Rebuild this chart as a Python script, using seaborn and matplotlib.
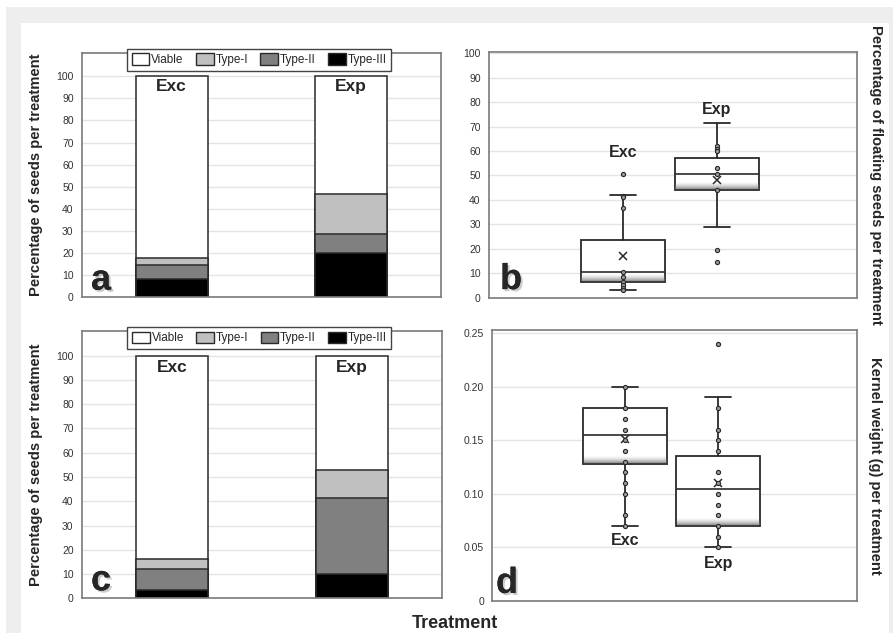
import numpy as np
import pandas as pd
import matplotlib
matplotlib.use('Agg')
import matplotlib.pyplot as plt
import matplotlib.patheffects as pe
from matplotlib.patches import Patch, Rectangle
import seaborn as sns

sns.set_style('white')
plt.rcParams['font.family'] = ['Liberation Sans', 'DejaVu Sans']

treatments = ['Exc', 'Exp']
classes = ['Viable', 'Type-I', 'Type-II', 'Type-III']
class_colors = ['white', '#c0c0c0', '#808080', 'black']

# panel a: seed classes (%)
a_type3 = [8.0, 20.0]
a_type2 = [6.5, 8.5]
a_type1 = [3.0, 18.0]
a_viable = [82.5, 53.5]

# panel c: seed classes (%)
c_type3 = [3.6, 10.0]
c_type2 = [8.4, 31.5]
c_type1 = [4.1, 11.5]
c_viable = [83.9, 47.0]

# panel b: floating seeds (%), box stats
b_q1 = [6.5, 44.0]
b_med = [10.5, 50.5]
b_q3 = [23.5, 57.0]
b_lo = [3.0, 29.0]
b_hi = [42.0, 71.5]
b_mean = [17.0, 48.0]
b_pts_exc = [50.5, 41.5, 41.0, 36.5, 10.5, 8.5, 6.5, 5.0, 4.0, 3.0]
b_pts_exp = [62.0, 61.0, 60.0, 53.0, 50.5, 44.0, 19.5, 14.5]

# panel d: kernel weight (g)
d_q1 = [0.128, 0.070]
d_med = [0.155, 0.105]
d_q3 = [0.180, 0.135]
d_lo = [0.070, 0.050]
d_hi = [0.200, 0.190]
d_mean = [0.151, 0.110]
d_pts_exc = [0.20, 0.18, 0.17, 0.16, 0.15, 0.14, 0.13, 0.12, 0.11, 0.10, 0.08, 0.07]
d_pts_exp = [0.24, 0.18, 0.16, 0.15, 0.14, 0.12, 0.11, 0.10, 0.09, 0.08, 0.07, 0.06, 0.05]

EDGE = '#2a2a2a'
GRID = '#e4e4e4'
SPINE = '#7a7a7a'

fig = plt.figure(figsize=(8.93, 6.33), dpi=100)
fig.patch.set_facecolor('white')
fig.patches.append(Rectangle((6 / 893, 0), 1, 1 - 7 / 633, transform=fig.transFigure,
                             facecolor='#eeeeee', edgecolor='none', zorder=-10))
fig.patches.append(Rectangle((21 / 893, 0), (889 - 21) / 893, 1 - 23 / 633,
                             transform=fig.transFigure, facecolor='white',
                             edgecolor='none', zorder=-9))

ax_a = fig.add_axes([0.0918, 0.5308, 0.402, 0.3855])
ax_c = fig.add_axes([0.0918, 0.0548, 0.403, 0.4228])
ax_b = fig.add_axes([0.5476, 0.5297, 0.4118, 0.3882])
ax_d = fig.add_axes([0.5513, 0.0506, 0.408, 0.4281])


def style_axes(ax):
    ax.set_facecolor('none')
    for s in ax.spines.values():
        s.set_color(SPINE)
        s.set_linewidth(1.2)
        s.set_visible(True)
    ax.yaxis.grid(True, color=GRID, lw=1)
    ax.set_axisbelow(True)
    ax.tick_params(axis='y', length=0, labelsize=7.5, labelcolor='#333333', pad=6)
    ax.set_xticks([])
    ax.set_xlabel('')
    ax.set_ylabel('')


def panel_letter(ax, letter, x, y):
    ax.text(x, y, letter, transform=ax.transAxes, fontsize=26, fontweight='bold',
            ha='left', va='baseline', zorder=6,
            path_effects=[pe.withSimplePatchShadow(offset=(1.5, -1.5),
                                                   shadow_rgbFace='#999999', alpha=0.5),
                          pe.Normal()])


def stacked(ax, viable, t1, t2, t3, top, letter, label_y):
    df = pd.DataFrame({'treatment': treatments, 'Viable': viable, 'Type-I': t1,
                       'Type-II': t2, 'Type-III': t3})
    cols = classes
    for i, cls in enumerate(cols):
        cum = df[cols[i:]].sum(axis=1)
        sns.barplot(x=df['treatment'], y=cum, color=class_colors[i], width=0.4,
                    edgecolor=EDGE, linewidth=1.1, saturation=1, ax=ax, zorder=2)
    ax.set_xlim(-0.5, 1.5)
    ax.set_ylim(0, top)
    ax.set_yticks(range(0, 101, 10))
    style_axes(ax)
    for i, t in enumerate(treatments):
        ax.text(i, label_y, t, ha='center', va='center', fontsize=12.5,
                fontweight='bold', zorder=5)
    handles = [Patch(facecolor=c, edgecolor=EDGE, linewidth=1) for c in class_colors]
    leg = ax.legend(handles, classes, ncol=4, loc='center',
                    bbox_to_anchor=(0.493, 0.973), fontsize=8.5, frameon=True,
                    fancybox=False, edgecolor='#444444', framealpha=1,
                    handlelength=1.5, handleheight=1.1, handletextpad=0.15,
                    columnspacing=1.05, borderpad=0.4)
    leg.get_frame().set_linewidth(1)
    leg.set_zorder(7)
    panel_letter(ax, letter, 0.025, 0.03)


stacked(ax_a, a_viable, a_type1, a_type2, a_type3, 110.6, 'a', 95.3)
stacked(ax_c, c_viable, c_type1, c_type2, c_type3, 110.3, 'c', 95.2)


def boxes(ax, q1, med, q3, lo, hi, mean, pts_exc, pts_exp, ylim, shade_h, letter,
          letter_xy, label_ys):
    stats = []
    for i in range(2):
        stats.append(dict(med=med[i], q1=q1[i], q3=q3[i], whislo=lo[i],
                          whishi=hi[i], mean=mean[i], fliers=[]))
    ax.bxp(stats, positions=[0, 1], widths=0.9, patch_artist=True, showmeans=True,
           showfliers=False, capwidths=0.28, zorder=2,
           boxprops=dict(facecolor='white', edgecolor=EDGE, linewidth=1.3),
           medianprops=dict(color=EDGE, linewidth=1.2),
           whiskerprops=dict(color=EDGE, linewidth=1.3),
           capprops=dict(color=EDGE, linewidth=1.3),
           meanprops=dict(marker='x', markeredgecolor=EDGE, markersize=6,
                          markeredgewidth=1.1))
    # soft shadow inside the bottom of each box
    grad = np.linspace(0, 1, 50)
    rgba = np.zeros((50, 1, 4))
    rgba[..., :3] = 0.45
    rgba[:, 0, 3] = (1 - grad) ** 1.8 * 0.8
    for i in range(2):
        ax.imshow(rgba, extent=(i - 0.445, i + 0.445, q1[i] + shade_h * 0.08,
                                q1[i] + shade_h), aspect='auto', zorder=2.2,
                  interpolation='bilinear', origin='lower')
    pts = pd.DataFrame({'treatment': ['Exc'] * len(pts_exc) + ['Exp'] * len(pts_exp),
                        'value': pts_exc + pts_exp})
    sns.stripplot(data=pts, x='treatment', y='value', jitter=False, size=3.0,
                  color='#9a9a9a', edgecolor=EDGE, linewidth=0.8, ax=ax, zorder=4)
    ax.set_xlim(-1.43, 2.49)
    ax.set_ylim(*ylim)
    style_axes(ax)
    for i, t in enumerate(treatments):
        ax.text(i, label_ys[i], t, ha='center', va='center', fontsize=11.5,
                fontweight='bold', zorder=5)
    panel_letter(ax, letter, *letter_xy)


boxes(ax_b, b_q1, b_med, b_q3, b_lo, b_hi, b_mean, b_pts_exc, b_pts_exp,
      (0, 100.5), 3.4, 'b', (0.03, 0.035), (59.5, 77.1))
ax_b.set_yticks(range(0, 101, 10))

boxes(ax_d, d_q1, d_med, d_q3, d_lo, d_hi, d_mean, d_pts_exc, d_pts_exp,
      (0, 0.253), 0.0078, 'd', (0.01, 0.03), (0.056, 0.0353))
ax_d.set_yticks([0, 0.05, 0.10, 0.15, 0.20, 0.25])
ax_d.set_yticklabels(['0', '0.05', '0.10', '0.15', '0.20', '0.25'])

# axis titles
fig.text(36 / 893, 1 - 175 / 633, 'Percentage of seeds per treatment', rotation=90,
         ha='center', va='center', fontsize=10.6, fontweight='bold')
fig.text(36 / 893, 1 - 465 / 633, 'Percentage of seeds per treatment', rotation=90,
         ha='center', va='center', fontsize=10.6, fontweight='bold')
fig.text(876 / 893, 1 - 175 / 633, 'Percentage of floating seeds per treatment',
         rotation=-90, ha='center', va='center', fontsize=10.6, fontweight='bold')
fig.text(875 / 893, 1 - 466 / 633, 'Kernel weight (g) per treatment', rotation=-90,
         ha='center', va='center', fontsize=10.6, fontweight='bold')
fig.text(455 / 893, 1 - 623 / 633, 'Treatment', ha='center', va='center',
         fontsize=13, fontweight='bold')

fig.savefig('out.png', dpi=100)
